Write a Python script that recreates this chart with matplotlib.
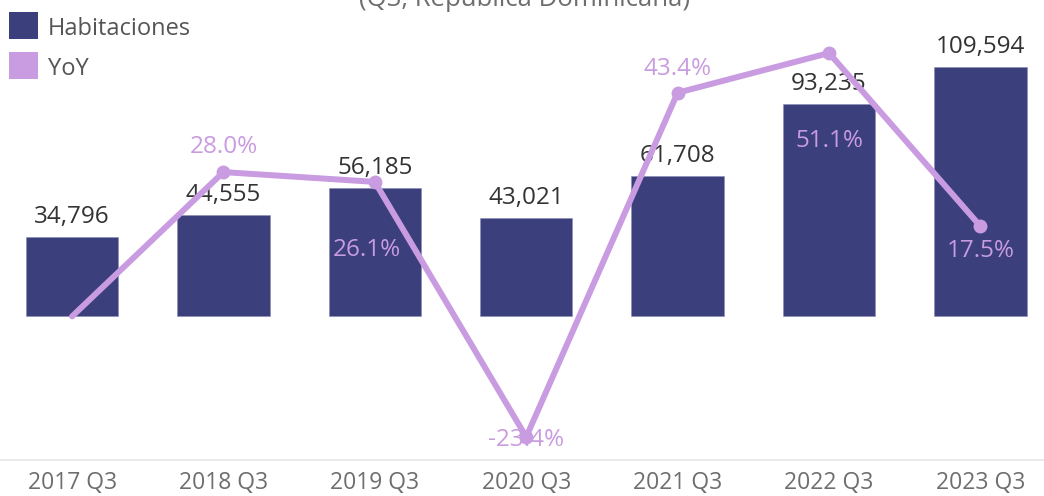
import matplotlib
matplotlib.use("Agg")
import matplotlib.pyplot as plt
from matplotlib.patches import Rectangle

plt.rcParams['font.family'] = ['Open Sans', 'DejaVu Sans']

# data
periods = ["2017 Q3", "2018 Q3", "2019 Q3", "2020 Q3", "2021 Q3", "2022 Q3", "2023 Q3"]
habitaciones = [34796, 44555, 56185, 43021, 61708, 93235, 109594]
yoy = [0.0, 28.0, 26.1, -23.4, 43.4, 51.1, 17.5]
yoy_labels = [None, "28.0%", "26.1%", "-23.4%", "43.4%", "51.1%", "17.5%"]

BAR = "#3b3f7c"
LINE = "#c99be0"
TEXT = "#333333"
GREY = "#6e6e6e"

W, H = 1044, 496
fig = plt.figure(figsize=(W / 100, H / 100), dpi=100)
ax = fig.add_axes([0, (H - 460) / H, 1, 460 / H])
x = list(range(len(periods)))

ax.bar(x, habitaciones, width=0.61, color=BAR, edgecolor="#8a8db5", linewidth=0.4, zorder=2)
ax.set_xlim(-0.476, 6.42)
ax.set_ylim(-63380, 139085)
ax.set_yticks([])
ax.set_xticks(x)
ax.set_xticklabels(periods, color=GREY, fontsize=16.5)
ax.tick_params(axis="x", length=0, pad=8)
for s in ["top", "left", "right"]:
    ax.spines[s].set_visible(False)
ax.spines["bottom"].set_color("#e6e6e6")
ax.spines["bottom"].set_linewidth(1.2)

for xi, v in zip(x, habitaciones):
    ax.annotate(f"{v:,}", (xi, v), xytext=(0, 20), textcoords="offset pixels",
                ha="center", va="center", fontsize=17.5, color=TEXT, zorder=5)

ax2 = ax.twinx()
ax2.set_ylim(-27.86, 61.39)
ax2.set_yticks([])
for s in ax2.spines.values():
    s.set_visible(False)
ax2.plot(x, yoy, color=LINE, linewidth=4.3, solid_capstyle="round",
         solid_joinstyle="round", zorder=3)
ax2.plot(x[1:], yoy[1:], "o", color=LINE, markersize=9, zorder=4)

# label offsets in pixels (Tableau placement)
label_dy = [0, 25, -68, -3, 24, -88, -25]
label_dx = [0, 0, -8, 0, 0, 0, 0]
for xi, v, lab, dy, dx in zip(x, yoy, yoy_labels, label_dy, label_dx):
    if lab is None:
        continue
    ax2.annotate(lab, (xi, v), xytext=(dx, dy), textcoords="offset pixels",
                 ha="center", va="center", fontsize=17.5, color=LINE, zorder=6)

# legend
for i, (name, col) in enumerate([("Habitaciones", BAR), ("YoY", LINE)]):
    top = 12 + i * 40
    fig.patches.append(Rectangle((9 / W, 1 - (top + 27) / H), 29 / W, 27 / H,
                                 transform=fig.transFigure, facecolor=col,
                                 edgecolor="none", zorder=10))
    fig.text(48 / W, 1 - (top + 17) / H, name, fontsize=17, color="#555555",
             va="center", ha="left")

# title cut off at top
fig.text(525 / W, 1 - 6 / H, "(Q3, República Dominicana)", fontsize=18.5,
         color=GREY, ha="center", va="baseline")

fig.savefig("out.png", dpi=100)
